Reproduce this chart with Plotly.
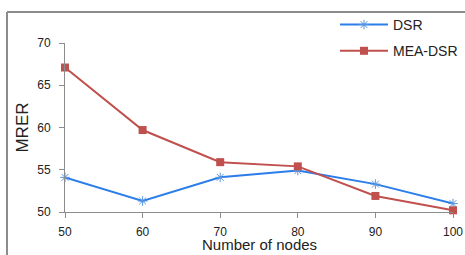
import plotly.graph_objects as go

nodes = [50, 60, 70, 80, 90, 100]
dsr = [54.1, 51.3, 54.1, 54.9, 53.3, 51.0]
mea_dsr = [67.1, 59.7, 55.9, 55.4, 51.9, 50.2]
y_ticks = [50, 55, 60, 65, 70]
x_title = "Number of nodes"
y_title = "MRER"

FONT = "Liberation Sans, Arial, sans-serif"

fig = go.Figure()
fig.add_trace(go.Scatter(
    x=nodes, y=dsr, name="DSR", mode="lines+markers",
    line=dict(color="#2B7DE9", width=2),
    marker=dict(symbol="asterisk-open", size=8, color="#5B95E0",
                line=dict(color="#5B95E0", width=1)),
    cliponaxis=False, legendgroup="a",
))
fig.add_trace(go.Scatter(
    x=nodes, y=mea_dsr, name="MEA-DSR", mode="lines+markers",
    line=dict(color="#C0504D", width=2),
    marker=dict(symbol="square", size=8, color="#C0504D"),
    cliponaxis=False, legendgroup="b",
))

W, H = 465, 255
L, R, T, B = 65, 12, 43, 43
pw, ph = W - L - R, H - T - B

def px(x):
    return (x - L) / pw

def py(y):
    return (H - B - y) / ph

fig.update_layout(
    width=W, height=H,
    margin=dict(l=L, r=R, t=T, b=B, pad=0, autoexpand=False),
    paper_bgcolor="white", plot_bgcolor="white",
    font=dict(family=FONT, color="#222222", size=12),
    showlegend=True,
    legend=dict(
        x=px(335), y=py(9), xanchor="left", yanchor="top",
        font=dict(family=FONT, size=14, color="#222222"),
        bgcolor="rgba(0,0,0,0)", tracegroupgap=5,
        itemwidth=48,
    ),
    xaxis=dict(
        range=[50, 100], tickvals=nodes, ticktext=[str(v) for v in nodes],
        showgrid=False, zeroline=False, automargin=False,
        showline=True, linecolor="#8C8C8C", linewidth=1,
        ticks="outside", ticklen=5, tickcolor="#8C8C8C",
        ticklabelstandoff=4,
        tickfont=dict(size=12, family=FONT, color="#222222"),
    ),
    yaxis=dict(
        range=[50, 70], tickvals=y_ticks,
        showgrid=False, zeroline=False, automargin=False,
        showline=True, linecolor="#8C8C8C", linewidth=1,
        ticks="outside", ticklen=5, tickcolor="#8C8C8C",
        ticklabelstandoff=6,
        tickfont=dict(size=12, family=FONT, color="#222222"),
        title=dict(text=y_title, font=dict(size=17, family=FONT, color="#222222"), standoff=4),
    ),
    annotations=[
        dict(text=x_title, xref="paper", yref="paper", x=0.5, y=py(245),
             xanchor="center", yanchor="middle", showarrow=False,
             font=dict(size=15, family=FONT, color="#222222")),
    ],
    shapes=[
        dict(type="line", xref="paper", yref="paper",
             x0=px(7), x1=px(7), y0=py(12), y1=py(H + 5),
             line=dict(color="#8C8C8C", width=2)),
        dict(type="line", xref="paper", yref="paper",
             x0=px(7), x1=px(W + 5), y0=py(12), y1=py(12),
             line=dict(color="#8C8C8C", width=2)),
    ],
)

fig.write_html(
    "out.html",
    config={"displayModeBar": False},
    post_script="document.body.style.margin='0';document.body.style.overflow='hidden';",
)
